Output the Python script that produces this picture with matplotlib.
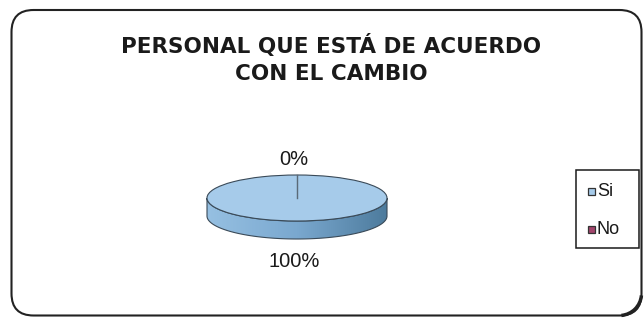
import numpy as np
import matplotlib.pyplot as plt
from matplotlib.patches import Wedge, Polygon, FancyBboxPatch, Rectangle, Arc
from matplotlib.transforms import Affine2D
from matplotlib.colors import LinearSegmentedColormap

title_lines = ["PERSONAL QUE ESTÁ DE ACUERDO", "CON EL CAMBIO"]
labels = ["Si", "No"]
values = [100, 0]
top_colors = ["#a6cbea", "#a3456c"]
side_colors = [("#96c0e2", "#7aa8cf", "#4d7b9d"), ("#a3456c", "#8a3558", "#5e2038")]

plt.rcParams['font.family'] = ['Liberation Sans', 'DejaVu Sans']

fig = plt.figure(figsize=(6.44, 3.18), dpi=100)
ax = fig.add_axes([0, 0, 1, 1])
ax.set_xlim(0, 644)
ax.set_ylim(318, 0)
ax.axis('off')

# rounded chart frame
ax.add_patch(FancyBboxPatch((11.5, 10), 630, 305.5, boxstyle="round,pad=0,rounding_size=22",
                            fill=False, lw=1.5, ec="#222222"))
ax.add_patch(Arc((619.5, 293.5), 44, 44, theta1=5, theta2=85, lw=2.5, color="#222222"))

for i, line in enumerate(title_lines):
    ax.text(331, 53 + i * 27, line, ha='center', va='baseline', fontsize=15.5,
            fontweight='bold', family='DejaVu Sans', color='#1a1a1a')

# pie geometry (pixels)
cx, cy, rx, ry, depth = 297, 198, 90, 23, 18
ell = Affine2D().scale(rx, -ry).translate(cx, cy) + ax.transData

total = sum(values)
spans = []
a = 90.0
for v in values:
    sweep = 360.0 * v / total
    spans.append((a - sweep, a))
    a -= sweep

# extruded side (front half only), with horizontal shading
for (t1, t2), cols in zip(spans, side_colors):
    if t2 - t1 <= 0:
        continue
    lo = t1 % 360
    hi = lo + (t2 - t1)
    for base in (180, 540):
        s, e = max(lo, base), min(hi, base + 180)
        if e <= s:
            continue
        th = np.radians(np.linspace(s, e, 120))
        xs = cx + rx * np.cos(th)
        ys = cy - ry * np.sin(th)
        pts = np.vstack([np.column_stack([xs, ys]), np.column_stack([xs[::-1], ys[::-1] + depth])])
        poly = Polygon(pts, closed=True, fc='none', ec='#3a4a58', lw=0.8, zorder=2)
        ax.add_patch(poly)
        cmap = LinearSegmentedColormap.from_list('side', cols)
        grad = np.linspace(0, 1, 256)[None, :]
        im = ax.imshow(grad, cmap=cmap, extent=(cx - rx, cx + rx, cy + ry + depth, cy - ry),
                       aspect='auto', zorder=1, interpolation='bilinear')
        im.set_clip_path(poly)

# top face
for (t1, t2), c in zip(spans, top_colors):
    if t2 - t1 <= 0:
        continue
    ax.add_patch(Wedge((0, 0), 1, t1, t2, transform=ell, fc=c, ec='#3a4a58', lw=0.8, zorder=3))

# wedge boundaries
for t1, t2 in spans:
    for t in (t1, t2):
        r = np.radians(t)
        ax.plot([0, np.cos(r)], [0, np.sin(r)], color='#5a6a78', lw=0.8, transform=ell, zorder=4)

# percentage labels
for (t1, t2), v in zip(spans, values):
    m = np.radians((t1 + t2) / 2)
    lx = cx - 3 + rx * 1.1 * np.cos(m)
    if np.sin(m) >= 0:
        ly = cy - ry - 10
    else:
        ly = cy + ry + depth + 28
    ax.text(lx, ly, f"{v / total * 100:.0f}%", ha='center', va='baseline', fontsize=14.5,
            color='#1a1a1a')

# legend
ax.add_patch(Rectangle((576, 170), 63, 78, fill=False, ec='#1a1a1a', lw=1.1))
for i, (lab, c) in enumerate(zip(labels, top_colors)):
    y = 191 + i * 38
    ax.add_patch(Rectangle((588, y - 3.5), 7, 7, fc=c, ec='#333333', lw=0.9))
    ax.text(597, y, lab, ha='left', va='center', fontsize=13, color='#1a1a1a')

fig.savefig('out.png', dpi=100)
